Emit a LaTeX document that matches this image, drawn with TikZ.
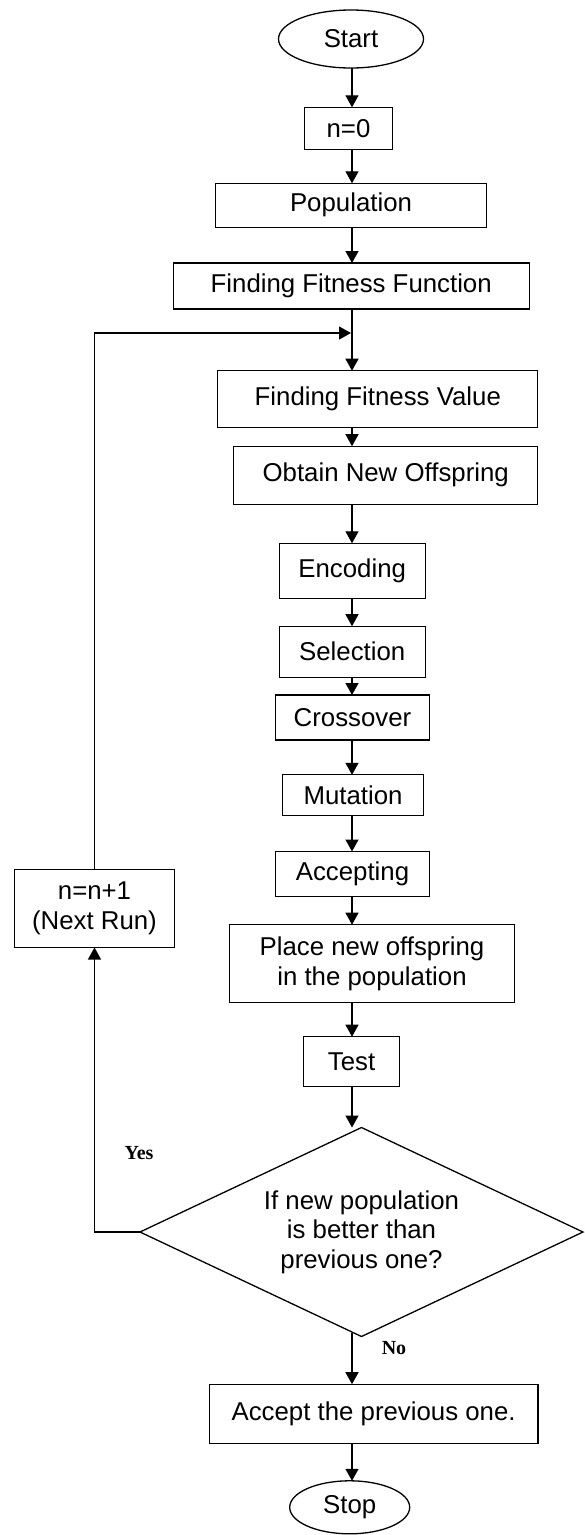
\documentclass[tikz,border=0pt]{standalone}
\usepackage{fontspec}
\setmainfont{Liberation Sans}
\newfontfamily\labelfont{Liberation Serif}
\usetikzlibrary{arrows.meta,shapes.geometric}
\begin{document}
\begin{tikzpicture}[x=1pt,y=-1pt,inner sep=0pt,outer sep=0pt,line width=1.3pt,
font=\fontsize{25.8}{29.5}\selectfont,
flow/.style={-{Triangle[width=13pt,length=12pt]}},
procbox/.style={draw,rectangle,align=center},
terminal/.style={draw,ellipse},
decision/.style={draw,diamond,align=center,aspect=2.12},
yesno/.style={font=\fontsize{20}{22}\labelfont\bfseries}]
\useasboundingbox (0,0) rectangle (584,1535);
\coordinate (axis) at (352,0);
\coordinate (join) at (351,333);
% main column
\draw (351,39) node[terminal,minimum width=145pt,minimum height=58pt] (start) {Start};
\draw (348.5,128.3) node[procbox,minimum width=87.5pt,minimum height=42pt] (init) {n=0};
\draw (351,205.3) node[procbox,minimum width=271.5pt,minimum height=44pt] (pop) {Population};
\draw (351.2,286) node[procbox,minimum width=356pt,minimum height=46pt] (fitfun) {Finding Fitness Function};
\draw (377.8,399.2) node[procbox,minimum width=320pt,minimum height=57pt] (fitval) {Finding Fitness Value};
\draw (385.7,475.2) node[procbox,minimum width=304pt,minimum height=58pt] (offs) {Obtain New Offspring};
\draw (352.2,570.8) node[procbox,minimum width=146pt,minimum height=55pt] (enc) {Encoding};
\draw (352.2,651.7) node[procbox,minimum width=146pt,minimum height=51pt] (sel) {Selection};
\draw (352.5,717.5) node[procbox,minimum width=154pt,minimum height=45pt] (cross) {Crossover};
\draw (353,795.3) node[procbox,minimum width=141.5pt,minimum height=41pt] (mut) {Mutation};
\draw (352.5,874) node[procbox,minimum width=154pt,minimum height=45pt] (acc) {Accepting};
\draw (372,963.7) node[procbox,minimum width=285pt,minimum height=78pt] (place) {Place new offspring\\in the population};
\draw (351.6,1061.7) node[procbox,minimum width=96pt,minimum height=50pt] (test) {Test};
\draw (361.5,1232) node[decision,minimum width=443pt,minimum height=209pt] (better) {If new population\\is better than\\previous one?};
\draw (373.6,1413.7) node[procbox,minimum width=328.5pt,minimum height=59pt] (keep) {Accept the previous one.};
\draw (349.7,1507.3) node[terminal,minimum width=120pt,minimum height=53pt] (stop) {Stop};
% loop box
\draw (94.5,908.5) node[procbox,minimum width=160pt,minimum height=78pt] (next) {n=n+1\\(Next Run)};
% arrows
\draw[flow] (start.south -| axis) -- (init.north -| axis);
\draw[flow] (init.south -| axis) -- (pop.north -| axis);
\draw[flow] (pop.south -| axis) -- (fitfun.north -| axis);
\draw[flow] (fitfun.south -| axis) -- (fitval.north -| axis);
\draw[flow] (fitval.south -| axis) -- (offs.north -| axis);
\draw[flow] (offs.south -| axis) -- (enc.north -| axis);
\draw[flow] (enc.south -| axis) -- (sel.north -| axis);
\draw[flow] (sel.south -| axis) -- (cross.north -| axis);
\draw[flow] (cross.south -| axis) -- (mut.north -| axis);
\draw[flow] (mut.south -| axis) -- (acc.north -| axis);
\draw[flow] (acc.south -| axis) -- (place.north -| axis);
\draw[flow] (place.south -| axis) -- (test.north -| axis);
\draw[flow] (test.south -| axis) -- (better.north -| axis);
\draw[flow] ([yshift=4pt]better.south -| axis) -- (keep.north -| axis);
\draw[flow] (keep.south -| axis) -- (stop.north -| axis);
\draw[flow] (better.west) -| (next.south);
\draw[flow] (next.north) |- (join);
% branch labels
\draw (139,1153) node[yesno] (yes) {Yes};
\draw (394,1348) node[yesno] (no) {No};
\end{tikzpicture}
\end{document}
